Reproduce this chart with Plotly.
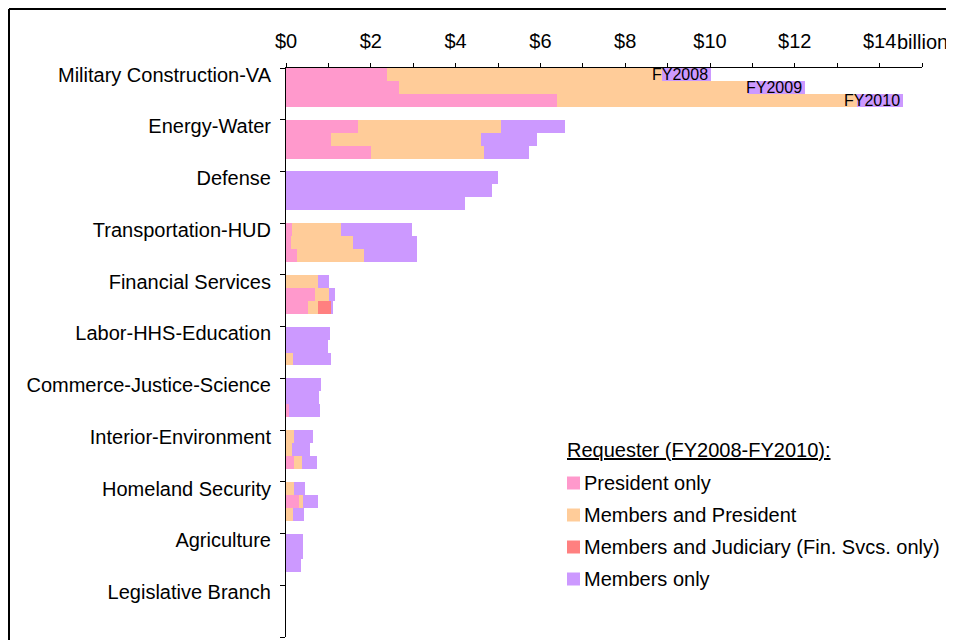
import plotly.graph_objects as go

categories = ["Military Construction-VA", "Energy-Water", "Defense", "Transportation-HUD",
              "Financial Services", "Labor-HHS-Education", "Commerce-Justice-Science",
              "Interior-Environment", "Homeland Security", "Agriculture", "Legislative Branch"]
years = ["FY2008", "FY2009", "FY2010"]
series_names = ["President only", "Members and President",
                "Members and Judiciary (Fin. Svcs. only)", "Members only"]
colors = ["#FF99CC", "#FFCC99", "#FF8080", "#CC99FF"]

# $ billions; each row = one category, [FY2008, FY2009, FY2010]
president_only = [
    [2.38, 2.67, 6.39], [1.69, 1.05, 2.00], [0, 0, 0], [0.13, 0.11, 0.27],
    [0, 0.68, 0.51], [0, 0, 0], [0, 0, 0.06], [0, 0, 0.20], [0, 0.30, 0],
    [0, 0, 0], [0, 0, 0]]
members_and_president = [
    [6.49, 8.23, 7.07], [3.37, 3.56, 2.68], [0, 0, 0], [1.16, 1.48, 1.58],
    [0.75, 0.33, 0.24], [0, 0, 0.16], [0, 0, 0], [0.20, 0.13, 0.17],
    [0.18, 0.09, 0.16], [0, 0, 0], [0, 0, 0]]
members_and_judiciary = [
    [0, 0, 0], [0, 0, 0], [0, 0, 0], [0, 0, 0], [0, 0, 0.30], [0, 0, 0],
    [0, 0, 0], [0, 0, 0], [0, 0, 0], [0, 0, 0], [0, 0, 0]]
members_only = [
    [1.16, 1.33, 1.08], [1.53, 1.32, 1.04], [4.99, 4.87, 4.21], [1.67, 1.49, 1.23],
    [0.26, 0.14, 0.07], [1.03, 0.98, 0.89], [0.82, 0.78, 0.74], [0.43, 0.43, 0.35],
    [0.26, 0.36, 0.26], [0.39, 0.39, 0.35], [0, 0, 0]]

x_tick_vals = [0, 2, 4, 6, 8, 10, 12, 14]
x_tick_text = ["$0", "$2", "$4", "$6", "$8", "$10", "$12", "$14"]

series_values = [president_only, members_and_president, members_and_judiciary, members_only]

FONT = "Liberation Sans, Arial, sans-serif"
FS = 20
BAR_W = 0.25

# page body has an 8px margin; compensate so the plot lands where the reference has it
OFF = 8
W, H = 954 - OFF, 640 - OFF
# plot area in screen pixels
L, R, T, B = 286, 922, 68, 637

def px(x):
    return (x - L) / (R - L)

def py(y):
    return (B - y) / (B - T)

fig = go.Figure()
ypos = []
for i in range(len(categories)):
    for j in range(len(years)):
        ypos.append(i + BAR_W / 2 + BAR_W * j)

for name, color, vals in zip(series_names, colors, series_values):
    xs = [vals[i][j] for i in range(len(categories)) for j in range(len(years))]
    fig.add_trace(go.Bar(
        x=xs, y=ypos, orientation="h", width=BAR_W, name=name,
        marker=dict(color=color, line=dict(width=0)), showlegend=False,
        hovertemplate=name + ": $%{x}B<extra></extra>"))

annotations = []
# FY labels on the first category
for j, yr in enumerate(years):
    total = sum(series_values[s][0][j] for s in range(len(series_values)))
    annotations.append(dict(x=total, y=BAR_W / 2 + BAR_W * j, xref="x", yref="y",
                            text=yr, showarrow=False, xanchor="right", yanchor="middle",
                            xshift=-1, font=dict(family=FONT, size=16, color="black")))

# "billion" unit next to last tick label
annotations.append(dict(x=14, y=py(42), xref="x", yref="paper", text="billion",
                        showarrow=False, xanchor="left", yanchor="middle", xshift=15,
                        font=dict(family=FONT, size=FS, color="black")))

# manual legend
annotations.append(dict(x=px(565), y=py(450), xref="paper", yref="paper",
                        text="<u>Requester (FY2008-FY2010):</u>", showarrow=False,
                        xanchor="left", yanchor="middle",
                        font=dict(family=FONT, size=FS, color="black")))
shapes = []
row_y = [483, 515, 547, 579]
for name, color, yy in zip(series_names, colors, row_y):
    shapes.append(dict(type="rect", xref="paper", yref="paper",
                       x0=px(567), x1=px(580), y0=py(yy + 6.5), y1=py(yy - 6.5),
                       fillcolor=color, line=dict(width=0)))
    annotations.append(dict(x=px(582), y=py(yy), xref="paper", yref="paper", text=name,
                            showarrow=False, xanchor="left", yanchor="middle",
                            font=dict(family=FONT, size=FS, color="black")))

# outer frame (top and left edges of the chart area)
shapes.append(dict(type="line", xref="paper", yref="paper", x0=px(OFF + 1), x1=px(980),
                   y0=py(OFF + 1), y1=py(OFF + 1), line=dict(color="black", width=2)))
shapes.append(dict(type="line", xref="paper", yref="paper", x0=px(OFF + 1), x1=px(OFF + 1),
                   y0=py(OFF + 1), y1=py(700), line=dict(color="black", width=2)))

fig.update_layout(
    width=W, height=H,
    margin=dict(l=L - OFF, r=W - (R - OFF), t=T - OFF, b=H - (B - OFF)),
    barmode="stack",
    plot_bgcolor="white", paper_bgcolor="white",
    font=dict(family=FONT, size=FS, color="black"),
    annotations=annotations, shapes=shapes,
    xaxis=dict(side="top", range=[0, 15], tickmode="array", tickvals=x_tick_vals,
               ticktext=x_tick_text, ticks="outside", ticklen=4, tickcolor="black",
               showline=True, linecolor="black", linewidth=1, showgrid=False,
               zeroline=False, ticklabelstandoff=7,
               tickfont=dict(family=FONT, size=FS, color="black"),
               minor=dict(tickmode="linear", tick0=0, dtick=1, ticks="outside",
                          ticklen=4, tickcolor="black", showgrid=False)),
    yaxis=dict(range=[11, 0], tickmode="array",
               tickvals=[i + 0.13 for i in range(len(categories))], ticktext=categories,
               ticks="", showline=True, linecolor="black", linewidth=1, showgrid=False,
               zeroline=False, ticklabelstandoff=10,
               tickfont=dict(family=FONT, size=FS, color="black"),
               minor=dict(tickmode="array", tickvals=list(range(len(categories) + 1)),
                          ticks="outside", ticklen=5, tickcolor="black", showgrid=False)),
)

fig.write_html("out.html")
